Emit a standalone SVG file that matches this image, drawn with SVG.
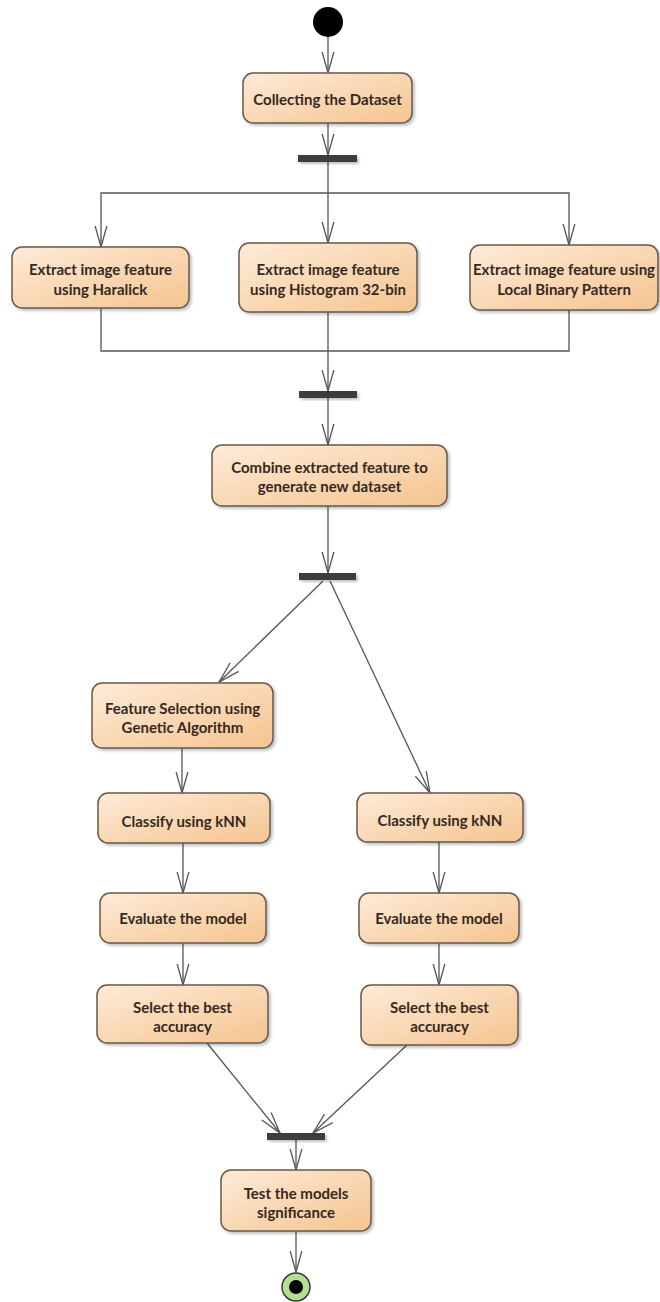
<svg xmlns="http://www.w3.org/2000/svg" width="660" height="1302" viewBox="0 0 660 1302">
<defs>
<linearGradient id="boxg" x1="0" y1="0" x2="1" y2="1">
<stop offset="0" stop-color="#fdebd9"/>
<stop offset="1" stop-color="#f5c48f"/>
</linearGradient>
<filter id="sh" x="-10%" y="-10%" width="130%" height="140%">
<feGaussianBlur in="SourceAlpha" stdDeviation="1.5"/>
<feOffset dx="2" dy="2" result="b"/>
<feComponentTransfer><feFuncA type="linear" slope="0.25"/></feComponentTransfer>
<feMerge><feMergeNode/><feMergeNode in="SourceGraphic"/></feMerge>
</filter>
<marker id="arr" viewBox="0 0 22 14" refX="21.5" refY="7" markerWidth="22" markerHeight="14" markerUnits="userSpaceOnUse" orient="auto">
<path d="M0,1 L21.5,7 L0,13" fill="none" stroke="#555" stroke-width="1.3"/>
</marker>
</defs>
<style>
.box{fill:url(#boxg);stroke:#6a5848;stroke-width:1.5;filter:url(#sh)}
.bar{fill:#3d3d3d;filter:url(#sh)}
.t{font-family:Lato,"Open Sans",sans-serif;font-weight:bold;font-size:15px;fill:#35291f;text-anchor:middle}
.c{fill:none;stroke:#555;stroke-width:1.3}
.a{marker-end:url(#arr)}
</style>
<rect width="660" height="1302" fill="#ffffff"/>
<g id="connectors">
<path class="c a" d="M328,37 L328,73"/>
<path class="c a" d="M328,123 L328,155"/>
<path class="c a" d="M328,162 L328,243"/>
<path class="c a" d="M328,193 L101,193 L101,247"/>
<path class="c a" d="M328,193 L569,193 L569,245"/>
<path class="c" d="M101,308 L101,351 L569,351 L569,310"/>
<path class="c a" d="M328,312 L328,391"/>
<path class="c a" d="M328,398 L328,445"/>
<path class="c a" d="M328,506 L328,573"/>
<path class="c a" d="M323,581 L219,682"/>
<path class="c a" d="M330,581 L430,793"/>
<path class="c a" d="M182,748 L182,793"/>
<path class="c a" d="M183,843 L183,893"/>
<path class="c a" d="M183,943 L183,985"/>
<path class="c a" d="M439,842 L439,893"/>
<path class="c a" d="M439,943 L439,985"/>
<path class="c a" d="M207,1043 L280,1133"/>
<path class="c a" d="M407,1045 L313,1133"/>
<path class="c a" d="M296,1140 L296,1170"/>
<path class="c a" d="M296,1231 L296,1272"/>
</g>
<g id="start"><circle cx="328" cy="22" r="15" fill="#000"/></g>
<g id="collect">
<rect class="box" x="243" y="73" width="169" height="50" rx="10"/>
<text class="t" x="327.5" y="105">Collecting the Dataset</text>
</g>
<g id="fork1"><rect class="bar" x="298" y="155" width="59" height="7"/></g>
<g id="haralick">
<rect class="box" x="12" y="247" width="177" height="61" rx="10"/>
<text class="t" x="100.5" y="275">Extract image feature</text>
<text class="t" x="100.5" y="295">using Haralick</text>
</g>
<g id="histogram">
<rect class="box" x="239" y="243" width="178" height="69" rx="10"/>
<text class="t" x="328" y="275">Extract image feature</text>
<text class="t" x="328" y="295">using Histogram 32-bin</text>
</g>
<g id="lbp">
<rect class="box" x="470" y="245" width="188" height="65" rx="10"/>
<text class="t" x="564" y="275">Extract image feature using</text>
<text class="t" x="564" y="295">Local Binary Pattern</text>
</g>
<g id="join1"><rect class="bar" x="299" y="391" width="58" height="7"/></g>
<g id="combine">
<rect class="box" x="212" y="445" width="235" height="61" rx="10"/>
<text class="t" x="329.5" y="473">Combine extracted feature to</text>
<text class="t" x="329.5" y="492">generate new dataset</text>
</g>
<g id="fork2"><rect class="bar" x="299" y="573" width="57" height="7"/></g>
<g id="featsel">
<rect class="box" x="92" y="683" width="181" height="65" rx="10"/>
<text class="t" x="182.5" y="714">Feature Selection using</text>
<text class="t" x="182.5" y="733">Genetic Algorithm</text>
</g>
<g id="classifyL">
<rect class="box" x="98" y="793" width="172" height="50" rx="10"/>
<text class="t" x="184" y="827">Classify using kNN</text>
</g>
<g id="evaluateL">
<rect class="box" x="100" y="893" width="166" height="50" rx="10"/>
<text class="t" x="183" y="924">Evaluate the model</text>
</g>
<g id="selectL">
<rect class="box" x="97" y="985" width="171" height="58" rx="10"/>
<text class="t" x="182.5" y="1013">Select the best</text>
<text class="t" x="182.5" y="1032">accuracy</text>
</g>
<g id="classifyR">
<rect class="box" x="357" y="793" width="166" height="49" rx="10"/>
<text class="t" x="440" y="826">Classify using kNN</text>
</g>
<g id="evaluateR">
<rect class="box" x="359" y="893" width="160" height="50" rx="10"/>
<text class="t" x="439" y="924">Evaluate the model</text>
</g>
<g id="selectR">
<rect class="box" x="361" y="985" width="157" height="60" rx="10"/>
<text class="t" x="439.5" y="1013">Select the best</text>
<text class="t" x="439.5" y="1032">accuracy</text>
</g>
<g id="join2"><rect class="bar" x="267" y="1133" width="58" height="7"/></g>
<g id="test">
<rect class="box" x="221" y="1170" width="150" height="61" rx="10"/>
<text class="t" x="296" y="1199">Test the models</text>
<text class="t" x="296" y="1218">significance</text>
</g>
<g id="end">
<circle cx="296" cy="1287" r="14" fill="#b7df92" stroke="#3a3a3a" stroke-width="1.5"/>
<circle cx="296" cy="1287" r="7" fill="#000"/>
</g>
</svg>
